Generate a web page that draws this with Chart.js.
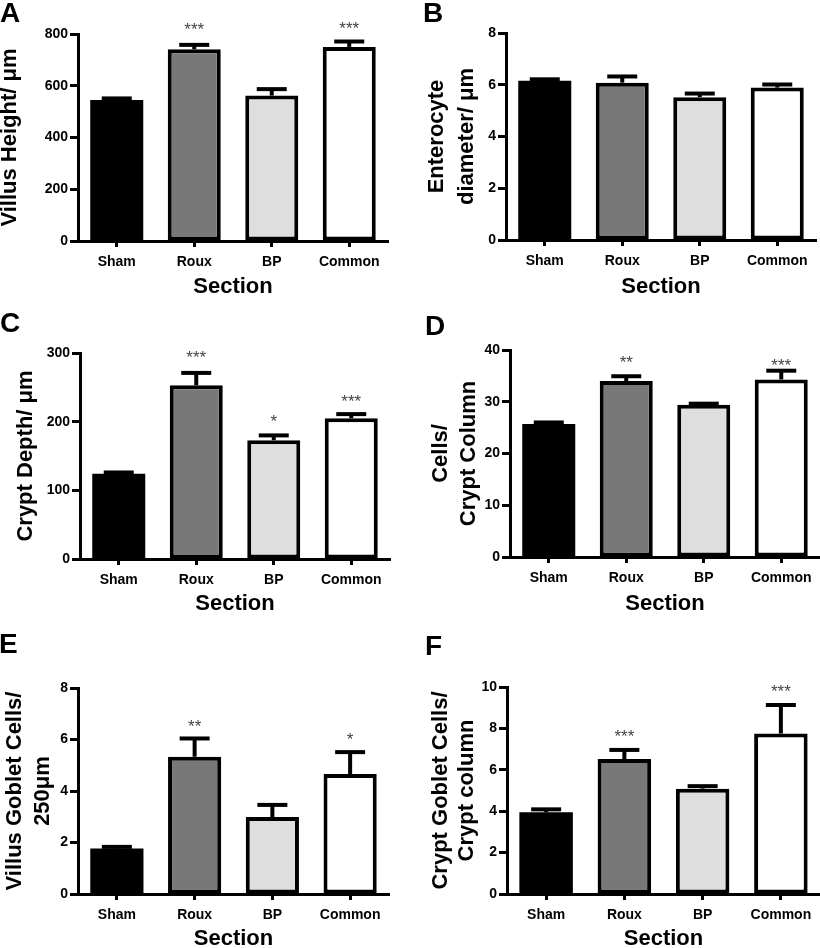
<!DOCTYPE html>
<html><head><meta charset="utf-8">
<script src="https://cdn.jsdelivr.net/npm/chart.js@4.4.1/dist/chart.umd.min.js"></script>
<style>
html,body{margin:0;padding:0;background:#fff;}
#wrap{position:relative;width:820px;height:948px;overflow:hidden;background:#fff;}
canvas{position:absolute;}
</style></head><body><div id="wrap">
<canvas id="cA" width="410" height="300" style="left:0;top:0"></canvas>
<canvas id="cB" width="410" height="300" style="left:410px;top:0"></canvas>
<canvas id="cC" width="410" height="320" style="left:0;top:300px"></canvas>
<canvas id="cD" width="410" height="320" style="left:410px;top:300px"></canvas>
<canvas id="cE" width="410" height="328" style="left:0;top:620px"></canvas>
<canvas id="cF" width="410" height="328" style="left:410px;top:620px"></canvas>
</div>
<script>
// ---------- data ----------
const categories = ['Sham', 'Roux', 'BP', 'Common'];

const villusHeight      = [545, 741, 562, 750];
const villusHeightErr   = [6, 17, 25, 21];
const villusHeightStars = ['', '***', '', '***'];
const villusHeightTicks = [0, 200, 400, 600, 800];

const enterocyteDiam      = [6.15, 6.08, 5.52, 5.89];
const enterocyteDiamErr   = [0.06, 0.24, 0.14, 0.12];
const enterocyteDiamStars = ['', '', '', ''];
const enterocyteDiamTicks = [0, 2, 4, 6, 8];

const cryptDepth      = [124, 253, 173, 205];
const cryptDepthErr   = [2, 18, 7, 6];
const cryptDepthStars = ['', '***', '*', '***'];
const cryptDepthTicks = [0, 100, 200, 300];

const cellsPerCrypt      = [25.7, 34.0, 29.4, 34.3];
const cellsPerCryptErr   = [0.3, 0.93, 0.23, 1.7];
const cellsPerCryptStars = ['', '**', '', '***'];
const cellsPerCryptTicks = [0, 10, 20, 30, 40];

const villusGoblet      = [1.77, 5.33, 2.99, 4.66];
const villusGobletErr   = [0.06, 0.71, 0.47, 0.85];
const villusGobletStars = ['', '**', '', '*'];
const villusGobletTicks = [0, 2, 4, 6, 8];

const cryptGoblet      = [3.95, 6.52, 5.09, 7.75];
const cryptGobletErr   = [0.14, 0.44, 0.12, 1.38];
const cryptGobletStars = ['', '***', '', '***'];
const cryptGobletTicks = [0, 2, 4, 6, 8, 10];

// ---------- styling ----------
const FONT = "'Liberation Sans', Arial, Helvetica, sans-serif";
const barColors = ['#000000', '#787878', '#dedede', '#ffffff'];
const barBorders = [0, 4, 4, 4];

const decor = {
  id: 'decor',
  afterDatasetsDraw(chart, args, o) {
    const ctx = chart.ctx;
    const ys = chart.scales.y;
    const vals = chart.data.datasets[0].data;
    const meta = chart.getDatasetMeta(0);
    ctx.save();
    meta.data.forEach((bar, i) => {
      const x = bar.x;
      const yv = ys.getPixelForValue(vals[i]);
      const ye = ys.getPixelForValue(vals[i] + o.errors[i]);
      ctx.strokeStyle = '#000';
      ctx.lineCap = 'butt';
      ctx.lineWidth = 4;
      ctx.beginPath(); ctx.moveTo(x, yv); ctx.lineTo(x, ye); ctx.stroke();
      ctx.lineWidth = 4;
      ctx.beginPath(); ctx.moveTo(x - 15, ye); ctx.lineTo(x + 15, ye); ctx.stroke();
      const s = o.stars[i];
      if (s) {
        const gap = (o.starGaps && o.starGaps[i]) || 16;
        const center = ye - 2 - gap;
        ctx.fillStyle = '#444';
        ctx.font = '17px ' + FONT;
        ctx.textAlign = 'center';
        ctx.textBaseline = 'alphabetic';
        ctx.fillText(s, x, center + 9.8);
      }
    });
    ctx.fillStyle = '#000';
    ctx.font = 'bold 28px ' + FONT;
    ctx.textAlign = 'left';
    ctx.textBaseline = 'alphabetic';
    ctx.fillText(o.letter, o.letterX, o.letterY);
    ctx.restore();
  }
};

function makePanel(id, p) {
  const H = p.h;
  const tickArr = p.ticks;
  return new Chart(document.getElementById(id), {
    type: 'bar',
    data: {
      labels: categories,
      datasets: [{
        data: p.values,
        backgroundColor: barColors,
        borderColor: '#000',
        borderWidth: barBorders,
        borderSkipped: false,
        barPercentage: 0.684,
        categoryPercentage: 1
      }]
    },
    options: {
      responsive: false,
      animation: false,
      devicePixelRatio: 1,
      layout: { padding: { top: p.top, right: 410 - p.right, bottom: 0, left: 0 } },
      plugins: {
        legend: { display: false },
        tooltip: { enabled: false },
        decor: { errors: p.errors, stars: p.stars, starGaps: p.starGaps, letter: p.letter, letterX: p.letterX, letterY: p.letterY }
      },
      scales: {
        x: {
          grid: { display: true, drawOnChartArea: false, drawTicks: true, tickLength: 6, tickWidth: 3, tickColor: '#000', offset: false },
          border: { display: true, color: '#000', width: 3 },
          ticks: { color: '#000', font: { family: FONT, size: 14, weight: 'bold' }, padding: 7, maxRotation: 0, autoSkip: false },
          title: { display: true, text: 'Section', color: '#000', font: { family: FONT, size: 22, weight: 'bold', lineHeight: p.xLH }, padding: { top: 0, bottom: 0 } },
          afterFit(s) { s.height = H - p.bottom; }
        },
        y: {
          min: tickArr[0],
          max: tickArr[tickArr.length - 1],
          afterBuildTicks(s) { s.ticks = tickArr.map(v => ({ value: v })); },
          grid: { display: true, drawOnChartArea: false, drawTicks: true, tickLength: 8, tickWidth: 3, tickColor: '#000' },
          border: { display: true, color: '#000', width: 3 },
          ticks: { color: '#000', font: { family: FONT, size: 14, weight: 'bold' }, padding: 2 },
          title: { display: true, text: p.yTitle, color: '#000', font: { family: FONT, size: 22, weight: 'bold', lineHeight: p.yLH }, padding: { top: p.yPad, bottom: 0 } },
          afterFit(s) { s.width = p.left; }
        }
      }
    },
    plugins: [decor]
  });
}

makePanel('cA', { h: 300, left: 78, top: 34, right: 388, bottom: 241,
  values: villusHeight, errors: villusHeightErr, stars: villusHeightStars, starGaps: [0, 18, 0, 15], ticks: villusHeightTicks,
  yTitle: 'Villus Height/ μm', yLH: '19px', yPad: 0, xLH: '26px', letter: 'A', letterX: 0, letterY: 22 });

makePanel('cB', { h: 300, left: 96, top: 33, right: 406, bottom: 240,
  values: enterocyteDiam, errors: enterocyteDiamErr, stars: enterocyteDiamStars, ticks: enterocyteDiamTicks,
  yTitle: ['Enterocyte', 'diameter/ μm'], yLH: '30px', yPad: 12, xLH: '26px', letter: 'B', letterX: 13, letterY: 22 });

makePanel('cC', { h: 320, left: 80, top: 53, right: 390, bottom: 259,
  values: cryptDepth, errors: cryptDepthErr, stars: cryptDepthStars, starGaps: [0, 18, 16, 15], ticks: cryptDepthTicks,
  yTitle: 'Crypt Depth/ μm', yLH: '26px', yPad: 12.5, xLH: '32px', letter: 'C', letterX: 0, letterY: 32 });

makePanel('cD', { h: 320, left: 100, top: 50, right: 410, bottom: 257,
  values: cellsPerCrypt, errors: cellsPerCryptErr, stars: cellsPerCryptStars, starGaps: [0, 16, 0, 7.5], ticks: cellsPerCryptTicks,
  yTitle: ['Cells/', 'Crypt Column'], yLH: '28px', yPad: 16.5, xLH: '33px', letter: 'D', letterX: 15, letterY: 35 });

makePanel('cE', { h: 328, left: 78, top: 68, right: 389, bottom: 274,
  values: villusGoblet, errors: villusGobletErr, stars: villusGobletStars, starGaps: [0, 14, 0, 15], ticks: villusGobletTicks,
  yTitle: ['Villus Goblet Cells/', '250μm'], yLH: '28px', yPad: 0.5, xLH: '18px', letter: 'E', letterX: -1, letterY: 33 });

makePanel('cF', { h: 328, left: 97, top: 67, right: 410, bottom: 274,
  values: cryptGoblet, errors: cryptGobletErr, stars: cryptGobletStars, starGaps: [0, 16, 0, 16], ticks: cryptGobletTicks,
  yTitle: ['Crypt Goblet Cells/', 'Crypt column'], yLH: '26px', yPad: 17.5, xLH: '18px', letter: 'F', letterX: 15, letterY: 35 });
</script>
</body></html>
